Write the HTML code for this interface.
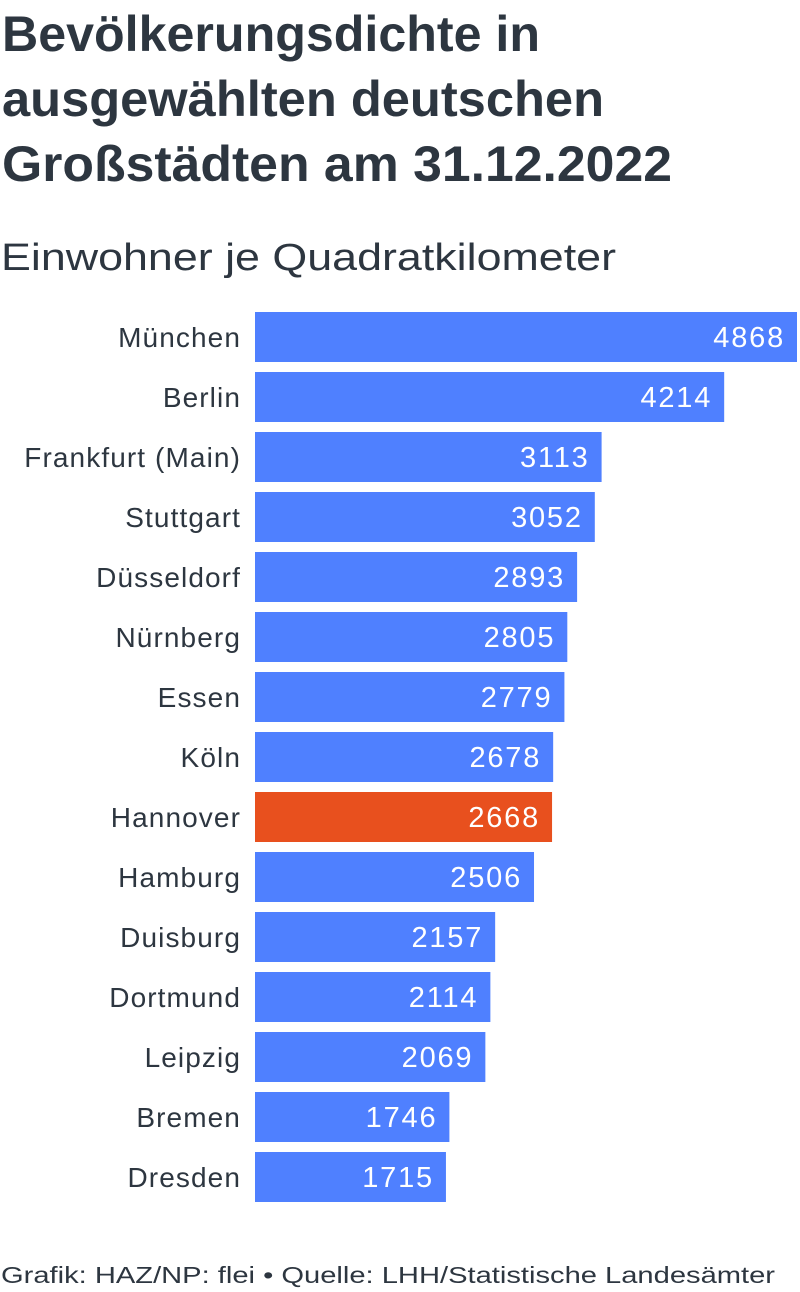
<!DOCTYPE html>
<html><head><meta charset="utf-8"><style>
html,body{margin:0;padding:0;background:#fff}
svg{display:block;font-family:"Liberation Sans",sans-serif}
</style></head><body>
<svg id="chart" width="800" height="1292" viewBox="0 0 800 1292">
<g fill="#2d3640">
<text x="2" y="51" font-size="50" font-weight="bold" textLength="538" lengthAdjust="spacingAndGlyphs">Bevölkerungsdichte in</text>
<text x="2" y="116" font-size="50" font-weight="bold" textLength="602" lengthAdjust="spacingAndGlyphs">ausgewählten deutschen</text>
<text x="2" y="181" font-size="50" font-weight="bold" textLength="670" lengthAdjust="spacingAndGlyphs">Großstädten am 31.12.2022</text>
<text x="1" y="270" font-size="38" textLength="615" lengthAdjust="spacingAndGlyphs">Einwohner je Quadratkilometer</text>
<text x="1" y="1283" font-size="23" textLength="774" lengthAdjust="spacingAndGlyphs">Grafik: HAZ/NP: flei • Quelle: LHH/Statistische Landesämter</text>
</g>
<g id="bars"></g>
</svg>
<script>
const cities = ["München","Berlin","Frankfurt (Main)","Stuttgart","Düsseldorf","Nürnberg","Essen","Köln","Hannover","Hamburg","Duisburg","Dortmund","Leipzig","Bremen","Dresden"];
const density = [4868,4214,3113,3052,2893,2805,2779,2678,2668,2506,2157,2114,2069,1746,1715];
const highlight = "Hannover";
const x0 = 255, xMax = 797, maxVal = 4868;
const top0 = 312, step = 60, barH = 50;
function xScale(v){ return x0 + (v / maxVal) * (xMax - x0); }
function yScale(i){ return top0 + i * step; }
const NS = "http://www.w3.org/2000/svg";
const g = document.getElementById("bars");
cities.forEach((c, i) => {
  const y = yScale(i);
  const r = document.createElementNS(NS, "rect");
  
  
  r.setAttribute("x", x0); r.setAttribute("y", y);
  r.setAttribute("width", xScale(density[i]) - x0); r.setAttribute("height", barH);
  r.setAttribute("fill", c === highlight ? "#e8501e" : "#4f80ff");
  g.appendChild(r);
  const l = document.createElementNS(NS, "text");
  
  
  l.setAttribute("x", 241); l.setAttribute("y", y + 35);
  l.setAttribute("text-anchor", "end"); l.setAttribute("font-size", "28");
  l.setAttribute("letter-spacing", "1.1");
  l.setAttribute("fill", "#2d3640");
  l.textContent = c;
  g.appendChild(l);
  const v = document.createElementNS(NS, "text");
  
  
  v.setAttribute("x", xScale(density[i]) - 12); v.setAttribute("y", y + 35);
  v.setAttribute("text-anchor", "end"); v.setAttribute("font-size", "29");
  v.setAttribute("letter-spacing", "1.8");
  v.setAttribute("fill", "#ffffff");
  v.textContent = density[i];
  g.appendChild(v);
});
</script>
</body></html>
